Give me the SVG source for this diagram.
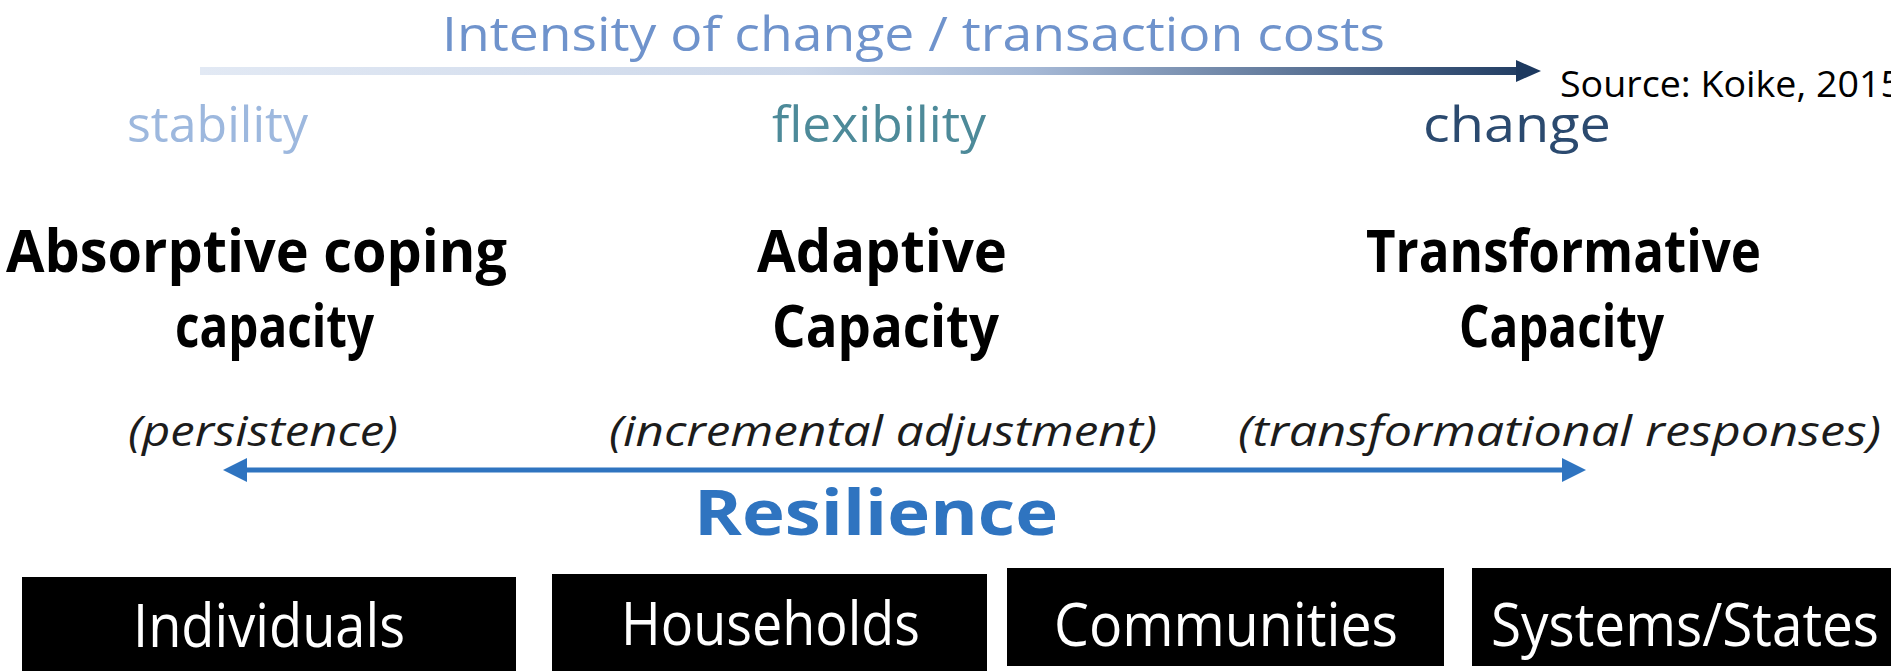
<svg xmlns="http://www.w3.org/2000/svg" width="1891" height="671" viewBox="0 0 1891 671">
  <style>
    text { font-family: "Open Sans", "Liberation Sans", sans-serif; }
    .title { font-size: 47px; fill: #6f93cc; }
    .mode { font-size: 50px; }
    .head { font-size: 59px; font-weight: bold; fill: #000; }
    .note { font-size: 42px; font-style: italic; fill: #1c1c1c; }
    .res { font-size: 63px; font-weight: bold; fill: #2f74c0; }
    .src { font-size: 36px; fill: #000; }
    .box { fill: #000; }
    .boxlabel { font-size: 60px; fill: #fff; }
  </style>
  <defs>
    <linearGradient id="intensity" gradientUnits="userSpaceOnUse" x1="200" y1="0" x2="1541" y2="0">
      <stop offset="0" stop-color="#e2e9f4"/>
      <stop offset="0.45" stop-color="#cdd8ea"/>
      <stop offset="0.62" stop-color="#a6b9d6"/>
      <stop offset="1" stop-color="#1d395f"/>
    </linearGradient>
  </defs>

  <rect width="1891" height="671" fill="#fff"/>

  <!-- connectors -->
  <g id="connectors">
    <g id="intensity-arrow">
      <rect x="200" y="67" width="1318" height="8" fill="url(#intensity)"/>
      <polygon points="1516,60 1541,71 1516,82" fill="#1d395f"/>
    </g>
    <g id="resilience-arrow" fill="#2f74c0">
      <rect x="242" y="467.5" width="1324" height="5"/>
      <polygon points="223,470 247,458 247,482"/>
      <polygon points="1586,470 1562,458 1562,482"/>
    </g>
  </g>

  <g id="title">
    <text class="title" x="442" y="51" textLength="943" lengthAdjust="spacingAndGlyphs">Intensity of change / transaction costs</text>
  </g>
  <g id="source">
    <text class="src" x="1560" y="97" textLength="342" lengthAdjust="spacingAndGlyphs">Source: Koike, 2015</text>
  </g>

  <!-- capacity columns -->
  <g id="absorptive">
    <text class="mode" x="127" y="142" fill="#9db8de" textLength="181" lengthAdjust="spacingAndGlyphs">stability</text>
    <text class="head" x="6" y="272" textLength="501" lengthAdjust="spacingAndGlyphs">Absorptive coping</text>
    <text class="head" x="175" y="347" textLength="199" lengthAdjust="spacingAndGlyphs">capacity</text>
    <text class="note" x="128" y="446" textLength="270" lengthAdjust="spacingAndGlyphs">(persistence)</text>
  </g>
  <g id="adaptive">
    <text class="mode" x="772" y="142" fill="#4d8a99" textLength="214" lengthAdjust="spacingAndGlyphs">flexibility</text>
    <text class="head" x="757" y="272" textLength="250" lengthAdjust="spacingAndGlyphs">Adaptive</text>
    <text class="head" x="772" y="347" textLength="227" lengthAdjust="spacingAndGlyphs">Capacity</text>
    <text class="note" x="609" y="446" textLength="548" lengthAdjust="spacingAndGlyphs">(incremental adjustment)</text>
  </g>
  <g id="transformative">
    <text class="mode" x="1423" y="142" fill="#2b4a6f" textLength="188" lengthAdjust="spacingAndGlyphs">change</text>
    <text class="head" x="1366" y="272" textLength="395" lengthAdjust="spacingAndGlyphs">Transformative</text>
    <text class="head" x="1459" y="347" textLength="205" lengthAdjust="spacingAndGlyphs">Capacity</text>
    <text class="note" x="1238" y="446" textLength="643" lengthAdjust="spacingAndGlyphs">(transformational responses)</text>
  </g>

  <g id="resilience">
    <text class="res" x="694" y="535" textLength="364" lengthAdjust="spacingAndGlyphs">Resilience</text>
  </g>

  <!-- scale levels -->
  <g id="individuals">
    <rect class="box" x="22" y="577" width="494" height="94"/>
    <text class="boxlabel" x="133" y="647" textLength="272" lengthAdjust="spacingAndGlyphs">Individuals</text>
  </g>
  <g id="households">
    <rect class="box" x="552" y="574" width="435" height="97"/>
    <text class="boxlabel" x="621" y="645" textLength="299" lengthAdjust="spacingAndGlyphs">Households</text>
  </g>
  <g id="communities">
    <rect class="box" x="1007" y="568" width="437" height="98"/>
    <text class="boxlabel" x="1054" y="646" textLength="344" lengthAdjust="spacingAndGlyphs">Communities</text>
  </g>
  <g id="systems-states">
    <rect class="box" x="1472" y="568" width="419" height="98"/>
    <text class="boxlabel" x="1491" y="646" textLength="388" lengthAdjust="spacingAndGlyphs">Systems/States</text>
  </g>
</svg>
